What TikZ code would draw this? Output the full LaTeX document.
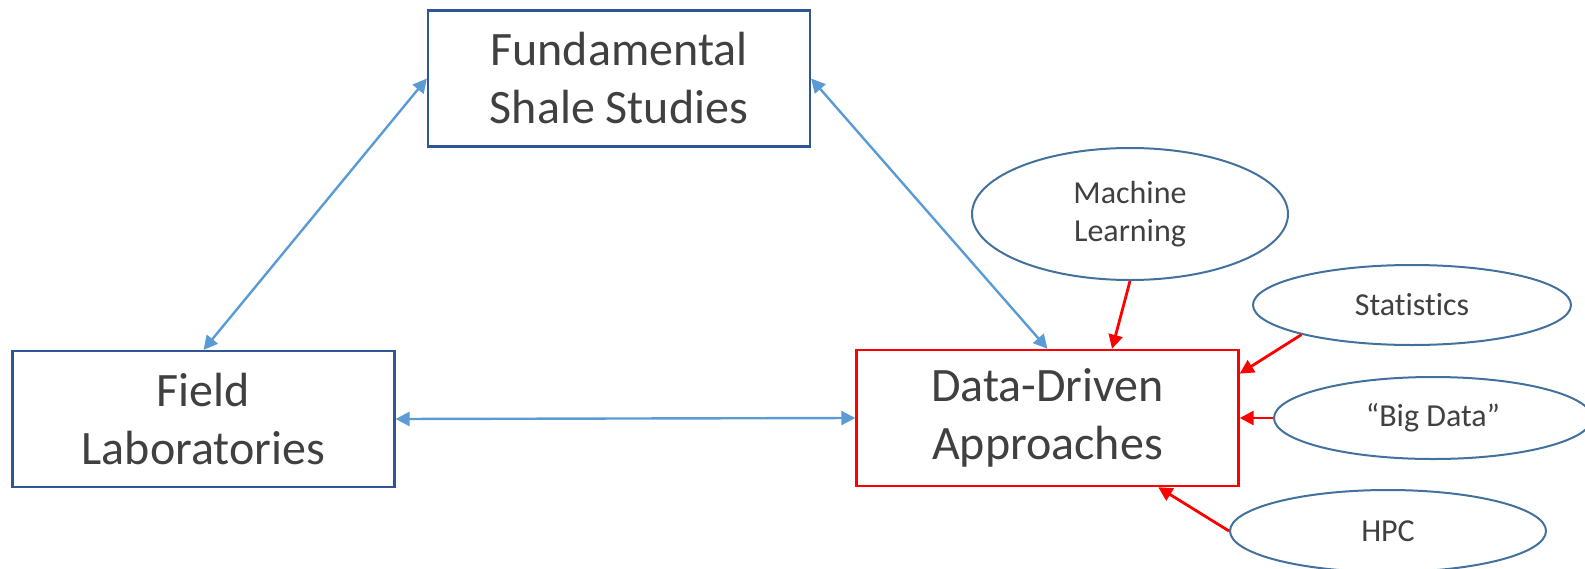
\documentclass[tikz,border=0pt]{standalone}
\usepackage{fontspec}
\setmainfont[Ligatures=NoCommon]{Carlito}
\usetikzlibrary{shapes.geometric,arrows.meta}
\definecolor{boxblue}{RGB}{47,85,151}
\definecolor{ringblue}{RGB}{65,113,156}
\definecolor{linkblue}{RGB}{91,155,213}
\definecolor{inkgray}{RGB}{64,64,64}
\begin{document}
\begin{tikzpicture}[x=0.5pt, y=-0.5pt,
  box/.style={rectangle, draw=boxblue, line width=1.1pt, text=inkgray, align=center,
    minimum width=191pt, minimum height=68pt, inner sep=0pt,
    font=\fontsize{24}{29}\selectfont},
  bubble/.style={ellipse, draw=ringblue, line width=1pt, text=inkgray, align=center,
    minimum width=158pt, minimum height=40pt, inner sep=0pt,
    font=\fontsize{16}{19}\selectfont},
  link/.style={draw=linkblue, line width=1.2pt, {Triangle[length=7pt,width=7pt]}-{Triangle[length=7pt,width=7pt]}},
  feed/.style={draw=red, line width=1.4pt, -{Triangle[length=7pt,width=7pt]}}]
\useasboundingbox (0,0) rectangle (1585,568);
% main boxes
\node [box] (fund) at (619,78.5) {Fundamental\\Shale Studies};
\node [box] (field) at (203.5,419) {Field\\Laboratories};
\node [box, draw=red, line width=1.2pt] (data) at (1047.5,418) {Data-Driven\\Approaches};
% inputs
\node [bubble, minimum height=66pt] (ml) at (1130,214) {Machine\\Learning};
\node [bubble, minimum width=159pt] (stats) at (1412,305) {Statistics};
\node [bubble, minimum width=159pt, minimum height=41pt] (bigdata) at (1433,418) {``Big Data''};
\node [bubble, minimum height=41pt] (hpc) at (1388,531) {HPC};
% links
\draw [link] (field.north) -- (fund.west);
\draw [link] (fund.east) -- (data.north);
\draw [link] (field.east) -- (data.west);
\draw [feed] (ml.south) -- (data.47);
\draw [feed] (stats.195) -- (data.13);
\draw [feed] (bigdata.west) -- (data.east);
\draw [feed] (hpc.west) -- (data.328);
\end{tikzpicture}
\end{document}
